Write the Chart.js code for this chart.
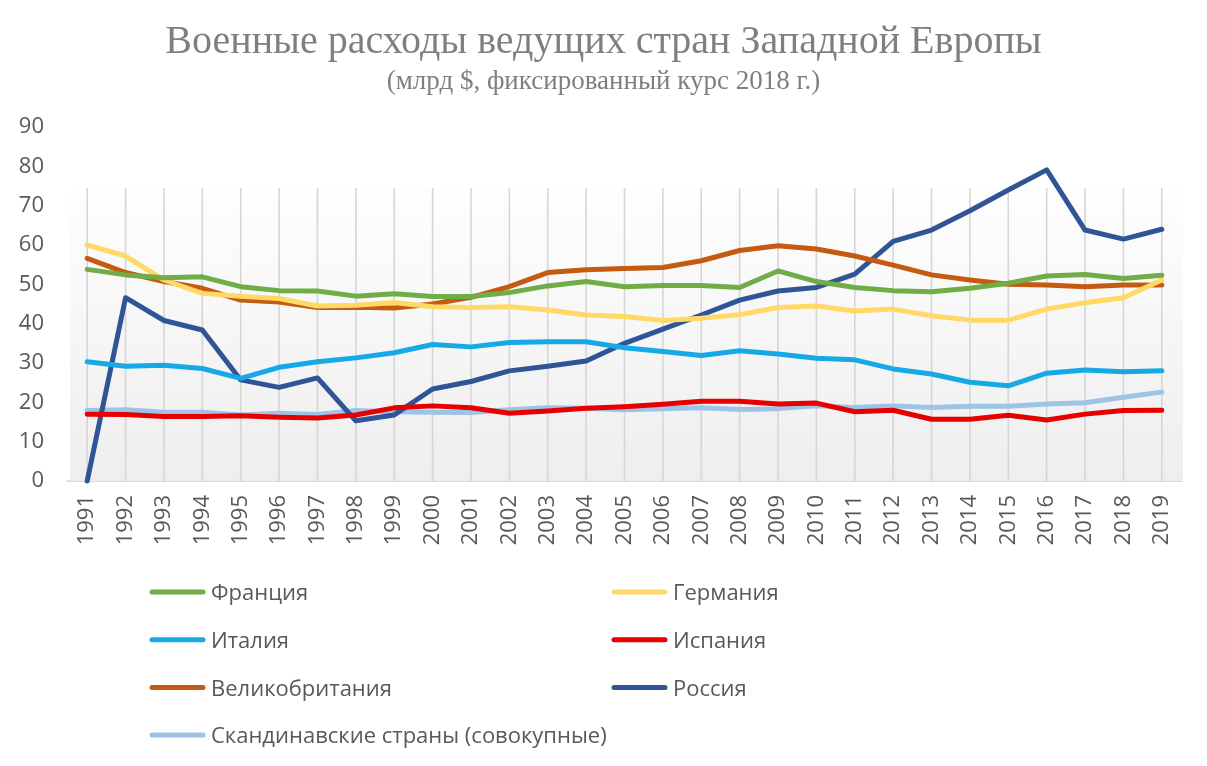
<!DOCTYPE html>
<html lang="ru">
<head>
<meta charset="utf-8">
<title>Военные расходы ведущих стран Западной Европы</title>
<script src="https://cdn.jsdelivr.net/npm/chart.js@4.4.1/dist/chart.umd.min.js"></script>
<style>
  html, body { margin: 0; padding: 0; background: #fff; }
  #wrap { width: 1207px; height: 766px; position: relative; }
</style>
</head>
<body>
<div id="wrap"><canvas id="chart" width="1207" height="766"></canvas></div>
<script>
// Years 1991..2019
const years = ['1991', '1992', '1993', '1994', '1995', '1996', '1997', '1998', '1999', '2000',
  '2001', '2002', '2003', '2004', '2005', '2006', '2007', '2008', '2009', '2010',
  '2011', '2012', '2013', '2014', '2015', '2016', '2017', '2018', '2019'];

// млрд $
const france = [53.8, 52.4, 51.7, 51.9, 49.4, 48.4, 48.3, 47.0, 47.6, 46.9,
  46.9, 47.9, 49.6, 50.7, 49.4, 49.7, 49.7, 49.2, 53.4, 50.7,
  49.2, 48.4, 48.1, 49.0, 50.3, 52.1, 52.5, 51.5, 52.3];
const germany = [60.0, 57.2, 51.1, 47.7, 47.0, 46.4, 44.5, 44.7, 45.4, 44.3,
  44.1, 44.3, 43.5, 42.2, 41.8, 40.8, 41.4, 42.3, 44.1, 44.5,
  43.2, 43.7, 42.0, 40.9, 40.9, 43.7, 45.3, 46.6, 51.1];
const italy = [30.3, 29.2, 29.4, 28.6, 26.1, 28.9, 30.3, 31.3, 32.6, 34.7,
  34.1, 35.2, 35.4, 35.4, 33.9, 32.9, 31.9, 33.1, 32.3, 31.2,
  30.8, 28.5, 27.2, 25.1, 24.2, 27.4, 28.2, 27.8, 28.0];
const spain = [17.0, 16.9, 16.4, 16.4, 16.6, 16.2, 16.0, 16.8, 18.6, 19.1,
  18.6, 17.2, 17.8, 18.5, 18.9, 19.5, 20.3, 20.3, 19.6, 19.8,
  17.6, 18.0, 15.7, 15.7, 16.7, 15.5, 17.0, 17.9, 18.0];
const uk = [56.6, 53.0, 50.7, 49.0, 46.0, 45.5, 44.1, 44.2, 44.0, 45.0,
  46.7, 49.4, 53.0, 53.7, 54.0, 54.3, 56.0, 58.6, 59.8, 59.0,
  57.2, 54.9, 52.4, 51.1, 50.0, 49.8, 49.4, 49.8, 49.8];
const russia = [0, 46.6, 40.8, 38.4, 25.7, 23.8, 26.2, 15.3, 16.8, 23.4,
  25.3, 28.0, 29.2, 30.5, 35.0, 38.6, 42.2, 46.0, 48.3, 49.2,
  52.6, 60.9, 63.8, 68.7, 74.0, 79.1, 63.8, 61.5, 64.0];
const nordic = [17.9, 18.1, 17.5, 17.5, 16.8, 17.2, 16.9, 17.9, 17.6, 17.5,
  17.4, 18.1, 18.6, 18.5, 18.1, 18.4, 18.6, 18.2, 18.4, 19.1,
  18.7, 19.1, 18.7, 19.0, 19.0, 19.6, 19.9, 21.3, 22.6];

const seriesNames = ['Франция', 'Германия', 'Италия', 'Испания', 'Великобритания', 'Россия',
  'Скандинавские страны (совокупные)'];
const seriesData = [france, germany, italy, spain, uk, russia, nordic];
const seriesColors = ['#70ad47', '#ffd966', '#16a9e6', '#e60000', '#c55a11', '#2f5597', '#9dc3e6'];

const yTicks = [0, 10, 20, 30, 40, 50, 60, 70, 80, 90];

const TEXT = '#595959';
Chart.defaults.font.family = "'Open Sans', 'Noto Sans', sans-serif";
Chart.defaults.color = TEXT;

// gradient plot backdrop + vertical grid lines, starting a bit below the top
const plotBackdrop = {
  id: 'plotBackdrop',
  beforeDatasetsDraw(chart) {
    const { ctx, chartArea, scales: { x, y } } = chart;
    const top = y.getPixelForValue(74.5);
    const bottom = chartArea.bottom;
    const g = ctx.createLinearGradient(0, top, 0, bottom);
    g.addColorStop(0, '#fefefe');
    g.addColorStop(1, '#eeeeee');
    ctx.save();
    ctx.fillStyle = g;
    ctx.fillRect(chartArea.left + 2, top, chartArea.right - chartArea.left, bottom - top);
    ctx.strokeStyle = '#d6d6d6';
    ctx.lineWidth = 1.6;
    years.forEach((_, i) => {
      const px = x.getPixelForValue(i);
      ctx.beginPath();
      ctx.moveTo(px, top);
      ctx.lineTo(px, bottom);
      ctx.stroke();
    });
    ctx.restore();
  }
};

// two-column legend under the axis
const gridLegend = {
  id: 'gridLegend',
  afterDraw(chart) {
    const { ctx } = chart;
    const cols = [150, 612];
    ctx.save();
    ctx.font = "22px 'Open Sans', 'Noto Sans', sans-serif";
    ctx.textBaseline = 'middle';
    chart.data.datasets.forEach((ds, i) => {
      const x0 = cols[i % 2];
      const yy = 593 + Math.floor(i / 2) * 47.7;
      ctx.strokeStyle = ds.borderColor;
      ctx.lineWidth = 5;
      ctx.lineCap = 'round';
      ctx.beginPath();
      ctx.moveTo(x0 + 2, yy - 1);
      ctx.lineTo(x0 + 53, yy - 1);
      ctx.stroke();
      ctx.fillStyle = TEXT;
      ctx.fillText(ds.label, x0 + 61, yy + 1);
    });
    ctx.restore();
  }
};

new Chart(document.getElementById('chart'), {
  type: 'line',
  data: {
    labels: years,
    datasets: seriesNames.map((name, i) => ({
      label: name,
      data: seriesData[i],
      borderColor: seriesColors[i],
      backgroundColor: seriesColors[i],
      borderWidth: 5,
      pointRadius: 0,
      tension: 0,
      clip: false,
      borderJoinStyle: 'round',
      borderCapStyle: 'round',
    })),
  },
  options: {
    responsive: false,
    animation: false,
    layout: { padding: { left: 0, right: 0, top: 0, bottom: 205 } },
    plugins: {
      legend: { display: false },
      tooltip: { enabled: false },
      title: {
        display: true,
        text: 'Военные расходы ведущих стран Западной Европы',
        color: '#7f7f7f',
        font: { family: "'Liberation Serif', 'DejaVu Serif', serif", size: 40, weight: 'normal' },
        padding: { top: 18, bottom: 0 },
      },
      subtitle: {
        display: true,
        text: '(млрд $, фиксированный курс 2018 г.)',
        color: '#7f7f7f',
        font: { family: "'Liberation Serif', 'DejaVu Serif', serif", size: 27 },
        padding: { top: 0, bottom: 28.6 },
      },
    },
    scales: {
      x: {
        offset: true,
        grid: { display: false, drawTicks: false },
        border: { display: true, color: '#d9d9d9', width: 2 },
        ticks: { minRotation: 90, maxRotation: 90, padding: 14, autoSkip: false, font: { size: 22 }, color: TEXT },
        afterFit(scale) { scale.height = 80; },
      },
      y: {
        min: 0,
        max: 90,
        afterBuildTicks(scale) { scale.ticks = yTicks.map(v => ({ value: v })); },
        grid: { display: false, drawTicks: false },
        border: { display: false },
        ticks: { padding: 24, font: { size: 22 }, color: TEXT },
        afterFit(scale) { scale.width = 68; },
      },
      // empty right-hand margin so the titles stay centred on the page
      yRight: {
        position: 'right',
        min: 0,
        max: 90,
        grid: { display: false, drawTicks: false },
        border: { display: false },
        ticks: { display: false },
        afterFit(scale) { scale.width = 26; },
      },
    },
  },
  plugins: [plotBackdrop, gridLegend],
});
</script>
</body>
</html>
